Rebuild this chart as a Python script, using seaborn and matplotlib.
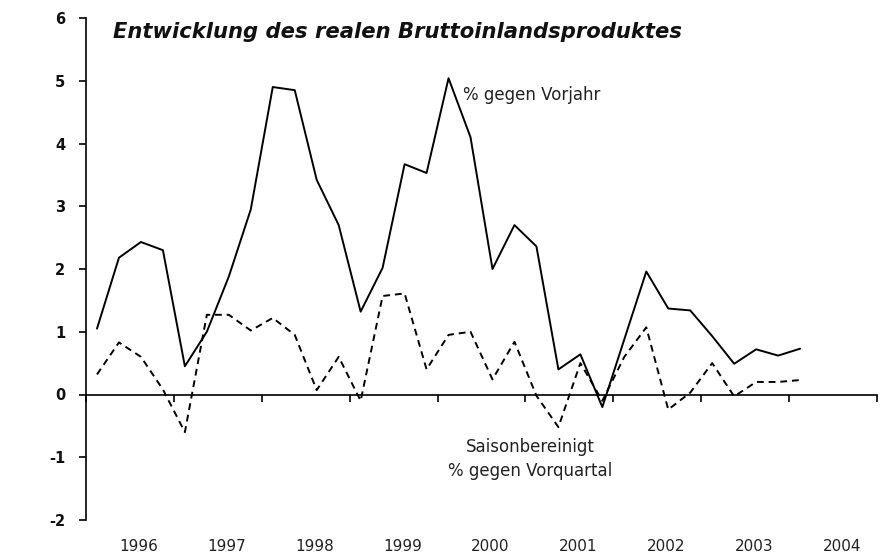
import numpy as np
import pandas as pd
import seaborn as sns
import matplotlib.pyplot as plt
from matplotlib.ticker import FixedLocator

# quarterly values, 1996 Q1 .. 2004 Q1
years = [1996] * 4 + [1997] * 4 + [1998] * 4 + [1999] * 4 + [2000] * 4 + \
        [2001] * 4 + [2002] * 4 + [2003] * 4 + [2004]
quarters = [1, 2, 3, 4] * 8 + [1]
vorjahr = [1.05, 2.18, 2.43, 2.30, 0.45, 1.00, 1.88, 2.95,
           4.90, 4.85, 3.42, 2.70, 1.32, 2.02, 3.67, 3.53,
           5.04, 4.10, 2.00, 2.70, 2.36, 0.40, 0.64, -0.20,
           0.88, 1.96, 1.37, 1.34, 0.93, 0.49, 0.72, 0.62, 0.73]
vorquartal = [0.32, 0.83, 0.60, 0.08, -0.60, 1.27, 1.27, 1.02,
              1.22, 0.95, 0.07, 0.60, -0.10, 1.57, 1.61, 0.40,
              0.95, 1.00, 0.24, 0.84, -0.02, -0.52, 0.50, -0.10,
              0.60, 1.07, -0.24, 0.03, 0.50, -0.03, 0.20, 0.20, 0.23]
year_labels = [str(y) for y in range(1996, 2005)]
yticks = [-2, -1, 0, 1, 2, 3, 4, 5, 6]

df = pd.DataFrame({'year': years, 'q': quarters,
                   'vorjahr': vorjahr, 'vorquartal': vorquartal})
df['t'] = df['year'] + (df['q'] - 0.5) / 4

sns.set_style('white')
plt.rcParams['font.family'] = ['DejaVu Sans']

fig = plt.figure(figsize=(8.85, 5.58), dpi=100)
ax = fig.add_axes([86 / 885, 1 - 520 / 558, (877 - 86) / 885, (520 - 18) / 558])

sns.lineplot(data=df, x='t', y='vorjahr', ax=ax, color='black', lw=1.4)
sns.lineplot(data=df, x='t', y='vorquartal', ax=ax, color='black', lw=1.4,
             linestyle=(0, (3.5, 2.5)))

ax.set_xlim(1996, 2005)
ax.set_ylim(-2, 6)
ax.set_xlabel('')
ax.set_ylabel('')

for s in ['top', 'right']:
    ax.spines[s].set_visible(False)
ax.spines['bottom'].set_position(('data', 0))
ax.spines['bottom'].set_linewidth(1.2)
ax.spines['left'].set_linewidth(1.2)
ax.spines['left'].set_color('black')
ax.spines['bottom'].set_color('black')

ax.xaxis.set_major_locator(FixedLocator(range(1996, 2006)))
ax.xaxis.set_major_formatter(plt.NullFormatter())
ax.xaxis.set_minor_locator(FixedLocator([y + 0.6 for y in range(1996, 2005)]))
ax.set_xticklabels(year_labels, minor=True)
ax.tick_params(axis='x', which='major', direction='out', length=5, width=1.2,
               color='black', bottom=True)
ax.tick_params(axis='x', which='minor', length=0, pad=104, labelsize=11,
               labelcolor='#222222')

ax.set_yticks(yticks)
ax.set_yticklabels([str(v) for v in yticks])
ax.tick_params(axis='y', direction='out', length=5, width=1.2, color='black',
               left=True, pad=10, labelsize=10.5, labelcolor='#111111')
for lab in ax.get_yticklabels():
    lab.set_fontweight('bold')

ax.text(2000.29, 4.78, '% gegen Vorjahr', fontsize=12, ha='left', va='center',
        color='#222222')
ax.text(2001.05, -1.03, 'Saisonbereinigt\n% gegen Vorquartal', fontsize=12,
        ha='center', va='center', linespacing=1.4, color='#222222')

fig.text(113 / 885, 1 - 32 / 558, 'Entwicklung des realen Bruttoinlandsproduktes',
         fontsize=15.2, fontweight='bold', fontstyle='italic', ha='left', va='center',
         color='#111111')

fig.savefig('out.png', dpi=100)
